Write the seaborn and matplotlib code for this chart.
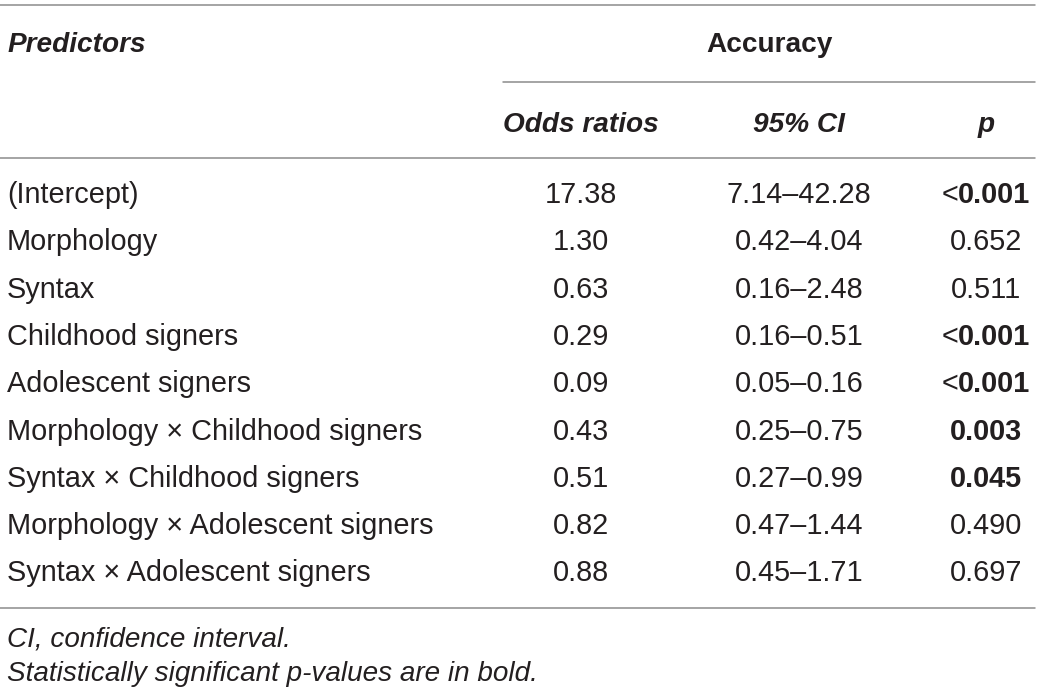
import matplotlib
matplotlib.use("Agg")
import matplotlib.pyplot as plt
import seaborn as sns

# ---- data ----
predictors = [
    "(Intercept)",
    "Morphology",
    "Syntax",
    "Childhood signers",
    "Adolescent signers",
    "Morphology \u00d7 Childhood signers",
    "Syntax \u00d7 Childhood signers",
    "Morphology \u00d7 Adolescent signers",
    "Syntax \u00d7 Adolescent signers",
]
odds_ratios = [17.38, 1.30, 0.63, 0.29, 0.09, 0.43, 0.51, 0.82, 0.88]
ci_low = [7.14, 0.42, 0.16, 0.16, 0.05, 0.25, 0.27, 0.47, 0.45]
ci_high = [42.28, 4.04, 2.48, 0.51, 0.16, 0.75, 0.99, 1.44, 1.71]
p_values = [0.001, 0.652, 0.511, 0.001, 0.001, 0.003, 0.045, 0.490, 0.697]
p_below = [True, False, False, True, True, False, False, False, False]
column_headers = ["Odds ratios", "95% CI", "p"]
group_header = "Accuracy"
stub_header = "Predictors"
footnotes = ["CI, confidence interval.",
             "Statistically significant p-values are in bold."]

# ---- style ----
sns.set_theme(style="white")
plt.rcParams["font.family"] = ["Liberation Sans", "DejaVu Sans"]
TXT = "#231f20"
LINE = "#8c8c8c"
FS = 20.8      # body
FSH = 20.2     # headers
FSN = 20.1     # footnotes

W, H = 1040, 694
fig = plt.figure(figsize=(W / 100, H / 100), dpi=100)
ax = fig.add_axes([0, 0, 1, 1])
ax.set_xlim(0, W)
ax.set_ylim(H, 0)
ax.axis("off")
sns.despine(ax=ax, left=True, bottom=True)

# layout
x_left = 7
col_x = [581, 799, 986]
row0_base = 203
row_step = 47.3
lw = 1.1

# rules
ax.plot([0, 1035], [5, 5], color=LINE, lw=lw)
ax.plot([503, 1035], [82, 82], color=LINE, lw=lw)
ax.plot([0, 1035], [158, 158], color=LINE, lw=lw)
ax.plot([0, 1035], [608, 608], color=LINE, lw=lw)

# headers
ax.text(x_left, 52, stub_header, fontsize=FSH, fontweight="bold",
        fontstyle="italic", color=TXT, ha="left", va="baseline")
ax.text((503 + 1035) / 2, 52, group_header, fontsize=FSH, fontweight="bold",
        color=TXT, ha="center", va="baseline")
for cx, h in zip(col_x, column_headers):
    ax.text(cx, 132, h, fontsize=FSH, fontweight="bold", fontstyle="italic",
            color=TXT, ha="center", va="baseline")

fig.canvas.draw()
renderer = fig.canvas.get_renderer()

def text_width(s, **kw):
    t = ax.text(0, 0, s, fontsize=FS, **kw)
    bb = t.get_window_extent(renderer=renderer)
    t.remove()
    return bb.width

for i, name in enumerate(predictors):
    y = row0_base + i * row_step
    ax.text(x_left, y, name, fontsize=FS, color=TXT, ha="left", va="baseline")
    ax.text(col_x[0], y, f"{odds_ratios[i]:.2f}", fontsize=FS, color=TXT,
            ha="center", va="baseline")
    ax.text(col_x[1], y, f"{ci_low[i]:.2f}\u2013{ci_high[i]:.2f}", fontsize=FS,
            color=TXT, ha="center", va="baseline")
    ptxt = f"{p_values[i]:.3f}"
    bold = p_values[i] < 0.05
    weight = "bold" if bold else "normal"
    if p_below[i]:
        w_lt = text_width("<")
        w_num = text_width(ptxt, fontweight="bold")
        total = w_lt + w_num
        start = col_x[2] - total / 2
        ax.text(start, y, "<", fontsize=FS, color=TXT, ha="left", va="baseline")
        ax.text(start + w_lt, y, ptxt, fontsize=FS, fontweight="bold",
                color=TXT, ha="left", va="baseline")
    else:
        ax.text(col_x[2], y, ptxt, fontsize=FS, fontweight=weight, color=TXT,
                ha="center", va="baseline")

# footnotes
ax.text(x_left, 647, footnotes[0], fontsize=FSN, fontstyle="italic",
        color=TXT, ha="left", va="baseline")
ax.text(x_left, 681, footnotes[1], fontsize=FSN, fontstyle="italic",
        color=TXT, ha="left", va="baseline")

fig.savefig("out.png", dpi=100)
